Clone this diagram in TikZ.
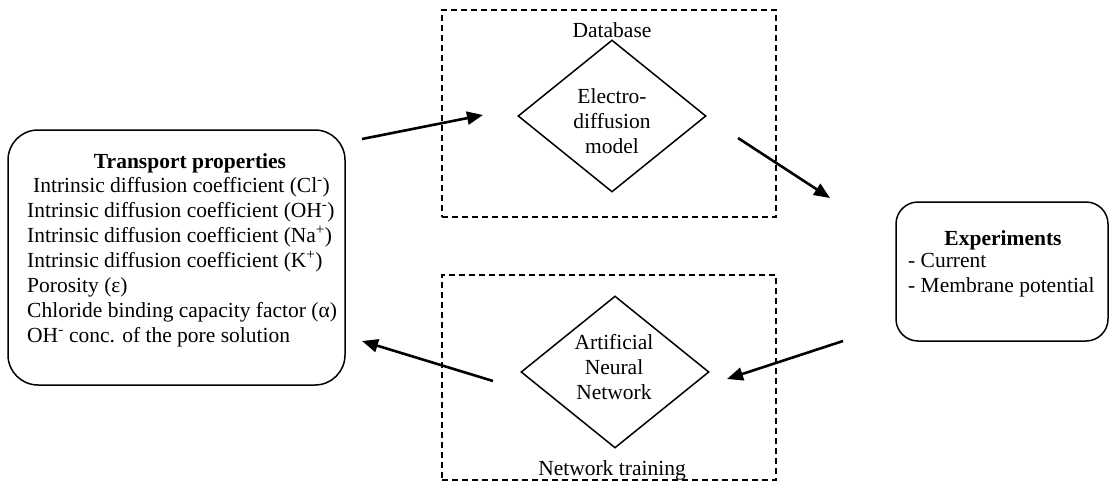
\documentclass[tikz,border=0pt]{standalone}
\usepackage{fontspec}
\setmainfont{Liberation Serif}
\usetikzlibrary{arrows.meta,shapes.geometric}
\tikzset{
  txt/.style={font=\fontsize{21.5}{25}\selectfont, inner sep=0pt},
  btxt/.style={font=\fontsize{21.5}{25}\selectfont\bfseries, inner sep=0pt},
  dbox/.style={draw, line width=1.5pt, dash pattern=on 6pt off 4pt, inner sep=0pt},
  dia/.style={draw, diamond, line width=1.5pt, inner sep=0pt, minimum width=188pt, minimum height=152pt},
  arr/.style={line width=2.6pt, -{Triangle[length=16pt,width=13pt]}},
}
\begin{document}
\begin{tikzpicture}[x=1pt,y=-1pt]
\useasboundingbox (0,0) rectangle (1110,482);
% dashed boxes
\node[dbox, minimum width=334pt, minimum height=207pt] (db) at (609,113.5) {};
\node[dbox, minimum width=334pt, minimum height=205pt] (nt) at (609,377.5) {};
% left rounded box
\node[draw, line width=1.5pt, rounded corners=30pt, minimum width=337pt, minimum height=255pt] (tp) at (176.5,257.5) {};
\node[btxt] (tpt) at (190,163) {Transport properties};
\node[txt, align=left, anchor=north west] (tpl) at (27,177) {\hspace{6pt}Intrinsic diffusion coefficient (Cl\textsuperscript{-})\\
Intrinsic diffusion coefficient (OH\textsuperscript{-})\\
Intrinsic diffusion coefficient (Na\textsuperscript{+})\\
Intrinsic diffusion coefficient (K\textsuperscript{+})\\
Porosity (ε)\\
Chloride binding capacity factor (α)\\
OH\textsuperscript{-} conc. of the pore solution};
% experiments box
\node[draw, line width=1.5pt, rounded corners=22pt, minimum width=212pt, minimum height=139pt] (ex) at (1002,271.5) {};
\node[btxt] (ext) at (1003,240) {Experiments};
\node[txt, align=left, anchor=north west] (exl) at (908,253) {- Current\\- Membrane potential};
% diamonds
\node[txt] (dbl) at (612,30) {Database};
\node[dia] (ed) at (612,116) {};
\node[txt, align=center] (edt) at (612,121) {Electro-\\diffusion\\model};
\node[dia] (ann) at (615,372) {};
\node[txt, align=center] (annt) at (614,367) {Artificial\\Neural\\Network};
\node[txt] (ntl) at (612,470) {Network training};
% arrow coordinates
\coordinate (a1s) at (362,139); \coordinate (a1e) at (483,115);
\coordinate (a2s) at (738,138); \coordinate (a2e) at (830,198);
\coordinate (a3s) at (843,341); \coordinate (a3e) at (727,379);
\coordinate (a4s) at (493,381); \coordinate (a4e) at (362,341);
\draw[arr] (a1s) -- (a1e);
\draw[arr] (a2s) -- (a2e);
\draw[arr] (a3s) -- (a3e);
\draw[arr] (a4s) -- (a4e);
\end{tikzpicture}
\end{document}
